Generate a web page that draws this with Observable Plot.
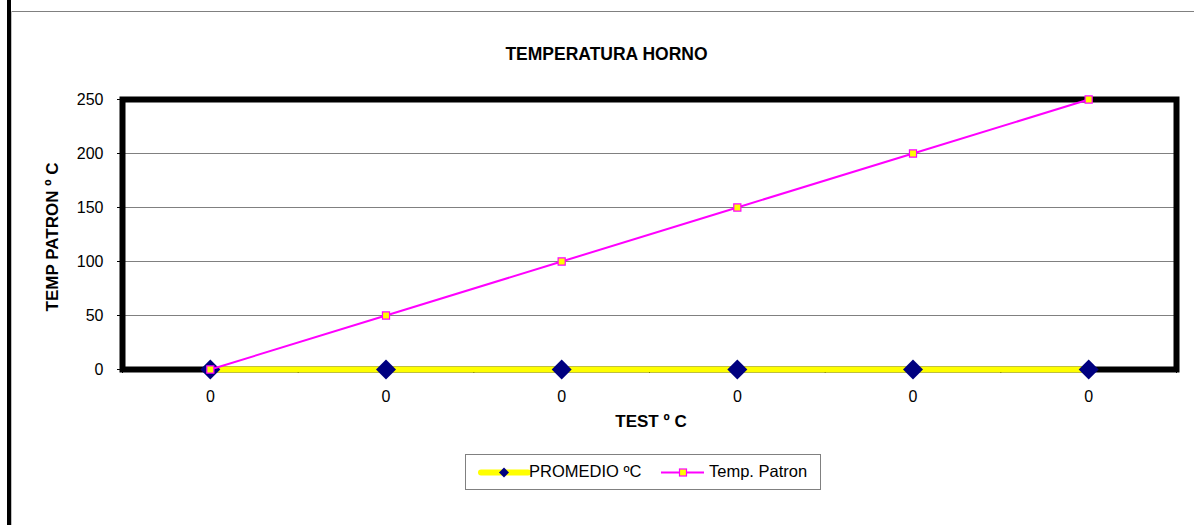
<!DOCTYPE html>
<html>
<head>
<meta charset="utf-8">
<script src="https://cdn.jsdelivr.net/npm/d3@7"></script>
<script src="https://cdn.jsdelivr.net/npm/@observablehq/plot@0.6"></script>
<style>
  html, body { margin: 0; padding: 0; background: #fff; }
  #wrap { position: relative; width: 1194px; height: 525px; overflow: hidden; font-family: "Liberation Sans", Arial, sans-serif; }
  #chart { position: absolute; left: 0; top: 0; }
  .leg { position: absolute; left: 465px; top: 454px; width: 356px; height: 36px; border: 1px solid #808080; box-sizing: border-box; background: #fff; }
  .leg span { position: absolute; top: 7px; font-size: 16.5px; color: #000; white-space: nowrap; }
</style>
</head>
<body>
<div id="wrap">
  <div style="position:absolute;left:7px;top:0;width:4px;height:525px;background:#000"></div>
  <div style="position:absolute;left:11px;top:11px;width:1183px;height:1px;background:#808080"></div>
  <div style="position:absolute;left:11px;top:11px;width:1px;height:514px;background:#c0c0c0"></div>
  <div id="chart"></div>
  <div class="leg">
    <svg width="356" height="36" style="position:absolute;left:0;top:0">
      <line x1="15" x2="62" y1="17.5" y2="17.5" stroke="#ffff00" stroke-width="6" stroke-linecap="round"/>
      <path d="M38,12.5 L43,17.5 L38,22.5 L33,17.5 Z" fill="#000080"/>
      <line x1="195" x2="238" y1="17.5" y2="17.5" stroke="#ff00ff" stroke-width="2"/>
      <rect x="213.5" y="14" width="7" height="7" fill="#ffff00" stroke="#ff00ff" stroke-width="1.2"/>
    </svg>
    <span style="left:63px">PROMEDIO ºC</span>
    <span style="left:243px">Temp. Patron</span>
  </div>
</div>
<script>
const categories = ["0", "0", "0", "0", "0", "0"];
const promedio = [0, 0, 0, 0, 0, 0];
const patron = [0, 50, 100, 150, 200, 250];
const yTicks = [0, 50, 100, 150, 200, 250];
const chartTitle = "TEMPERATURA HORNO";
const xTitle = "TEST º C";
const yTitle = "TEMP PATRON º C";

const data = categories.map((c, i) => ({i, label: c, promedio: promedio[i], patron: patron[i]}));

const font = "'Liberation Sans', Arial, sans-serif";

const chart = Plot.plot({
  width: 1194,
  height: 525,
  marginLeft: 122,
  marginRight: 18,
  marginTop: 99,
  marginBottom: 156,
  style: {fontFamily: font, fontSize: "16px", color: "#000", background: "transparent", overflow: "visible"},
  x: {type: "linear", domain: [-0.5, categories.length - 0.5]},
  y: {domain: [0, 250]},
  marks: [
    Plot.gridY(yTicks.slice(1, -1), {stroke: "#808080", strokeOpacity: 1, strokeWidth: 1}),
    Plot.axisY(yTicks, {tickSize: 5, tickPadding: 14, label: null, fontSize: 16}),
    Plot.axisX(d3.range(-0.5, categories.length, 1), {tickSize: 4, tickFormat: () => "", label: null}),
    Plot.axisX(d3.range(categories.length), {tickSize: 0, tickPadding: 21, tickFormat: i => categories[i], label: null, fontSize: 16}),
    Plot.frame({stroke: "#000", strokeWidth: 6}),
    Plot.lineY(data, {x: "i", y: "promedio", stroke: "#ffff00", strokeWidth: 6}),
    Plot.dot(data, {x: "i", y: "promedio", symbol: "diamond2", r: 9, fill: "#000080", stroke: "none"}),
    Plot.lineY(data, {x: "i", y: "patron", stroke: "#ff00ff", strokeWidth: 2}),
    Plot.dot(data, {x: "i", y: "patron", symbol: "square", r: 4, fill: "#ffff00", stroke: "#ff00ff", strokeWidth: 1.2}),
    Plot.text([chartTitle], {text: d => d, frameAnchor: "top-left", textAnchor: "middle", dx: 484, dy: -51.5, fontWeight: "bold", fontSize: 17.5}),
    Plot.text([xTitle], {text: d => d, frameAnchor: "bottom", textAnchor: "middle", dx: 1.5, dy: 57.5, fontWeight: "bold", fontSize: 17}),
    Plot.text([yTitle], {text: d => d, frameAnchor: "left", textAnchor: "middle", rotate: -90, dx: -69.5, dy: 2.5, fontWeight: "bold", fontSize: 17})
  ]
});
document.getElementById("chart").appendChild(chart);
</script>
</body>
</html>
